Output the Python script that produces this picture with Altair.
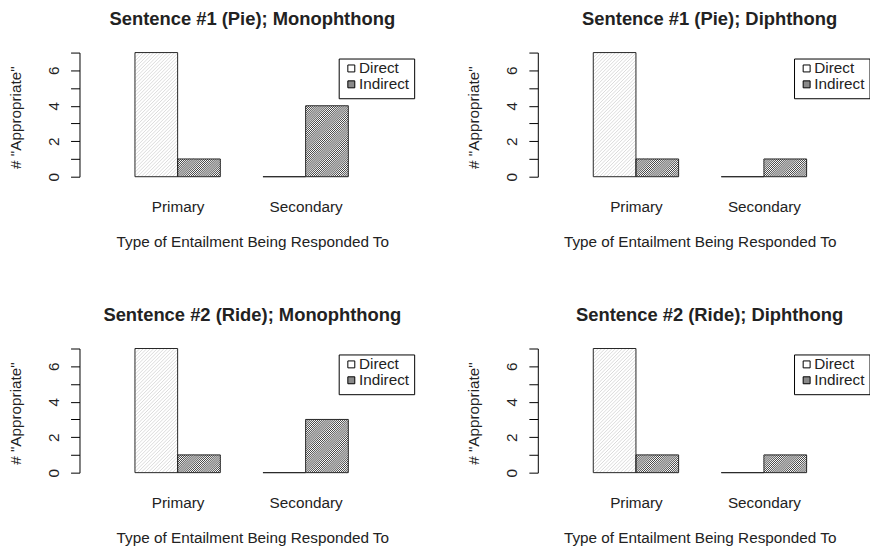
import json
import math

import altair as alt
import pandas as pd

# ---- data ----
panel_titles = [
    "Sentence #1 (Pie); Monophthong",
    "Sentence #1 (Pie); Diphthong",
    "Sentence #2 (Ride); Monophthong",
    "Sentence #2 (Ride); Diphthong",
]
categories = ["Primary", "Secondary"]
series = ["Direct", "Indirect"]
direct_counts = [[7, 0], [7, 0], [7, 0], [7, 0]]
indirect_counts = [[1, 4], [1, 1], [1, 3], [1, 1]]
y_ticks = [0, 1, 2, 3, 4, 5, 6, 7]

x_title = "Type of Entailment Being Responded To"
y_title = '# "Appropriate"'

# ---- style / layout constants ----
FONT = "Liberation Sans"
TXT = "#222222"
PLOT_H = 125
PANEL_W = [348, 326, 348, 326]
X_MIN = -0.3
UX = 348 / 8.1          # pixels per bar width (R barplot unit)
UY = PLOT_H / 7.0       # pixels per count
hatch_step = {"Direct": 3.5, "Indirect": 2.1}      # horizontal px between hatch lines
hatch_width = {"Direct": 0.8, "Indirect": 0.85}
hatch_colors = ["#d2d2d2", "#1a1a1a"]
legend_colors = ["#ffffff", "#8a8a8a"]
legend_x = [261, 258, 261, 258]
title_dx = [0, 10, 0, 10]


def bar_table(i):
    rows = []
    for ci, cat in enumerate(categories):
        for si, s in enumerate(series):
            v = (direct_counts if si == 0 else indirect_counts)[i][ci]
            x0 = 1 + 3 * ci + si          # barplot layout: width 1, space 1 between groups
            rows.append({"category": cat, "series": s, "value": v, "x0": x0, "x1": x0 + 1})
    return pd.DataFrame(rows)


def hatch_table(bars):
    rows = []
    for r in bars.itertuples():
        if r.value <= 0:
            continue
        d = hatch_step[r.series]
        X0, X1, Y1 = r.x0 * UX, r.x1 * UX, r.value * UY
        for k in range(math.ceil((X0 - Y1) / d), math.floor(X1 / d) + 1):
            c = k * d
            pa, pb = max(X0, c), min(X1, c + Y1)
            if pb - pa > 0.3:
                rows.append({
                    "series": r.series,
                    "hx": pa / UX, "hy": (pa - c) / UY,
                    "hx2": pb / UX, "hy2": (pb - c) / UY,
                })
    return pd.DataFrame(rows)


centers = [2 + 3 * ci for ci in range(len(categories))]
label_expr = f"{json.dumps(categories)}[round((datum.value - 2) / 3)]"


def panel(i):
    bars = bar_table(i)
    hatch = hatch_table(bars)
    xmax = X_MIN + PANEL_W[i] / UX
    xscale = alt.Scale(domain=[X_MIN, xmax], nice=False, zero=False)
    yscale = alt.Scale(domain=[0, 7], nice=False, zero=True)
    xaxis = alt.Axis(
        title=x_title,
        values=centers,
        labelExpr=label_expr,
        labelAngle=0,
        labelFlush=False,
        labelOverlap=False,
        grid=False,
        domain=False,
        ticks=False,
        tickSize=0,
        labelPadding=35.5,
        labelBaseline="alphabetic",
        labelFont=FONT,
        labelFontSize=15.4,
        labelColor=TXT,
        titleFont=FONT,
        titleFontSize=15.4,
        titleFontWeight="normal",
        titleColor=TXT,
        titleBaseline="alphabetic",
        titleY=70.5,
    )
    yaxis = alt.Axis(
        values=y_ticks,
        labelExpr="datum.value % 2 === 0 ? datum.label : ''",
        labelOverlap=False,
        grid=False,
        domainColor="black",
        tickColor="black",
        tickSize=9,
        labelAngle=270,
        labelAlign="center",
        labelBaseline="alphabetic",
        labelPadding=12,
        labelFont=FONT,
        labelFontSize=15.4,
        labelColor=TXT,
        title=y_title,
        titleFont=FONT,
        titleFontSize=15.4,
        titleFontWeight="normal",
        titleColor=TXT,
        titleAngle=270,
        titleAlign="center",
        titleBaseline="alphabetic",
        titleX=-59.5,
        titleY=65,
    )

    legend_layer = (
        alt.Chart(bars)
        .mark_bar(opacity=0)
        .encode(
            x=alt.X("x0:Q", scale=xscale, axis=xaxis),
            x2="x1:Q",
            y=alt.Y("value:Q", scale=yscale, axis=yaxis),
            y2=alt.Y2(datum=0),
            color=alt.Color(
                "series:N",
                sort=series,
                scale=alt.Scale(domain=series, range=legend_colors),
                legend=alt.Legend(
                    title=None,
                    orient="none",
                    legendX=legend_x[i],
                    legendY=6,
                    fillColor="white",
                    strokeColor="black",
                    padding=5,
                    cornerRadius=0,
                    symbolType="square",
                    symbolSize=49,
                    symbolStrokeColor="black",
                    symbolStrokeWidth=1,
                    symbolOpacity=1,
                    labelFont=FONT,
                    labelFontSize=15.4,
                    labelColor=TXT,
                    labelOffset=0,
                    clipHeight=10,
                    rowPadding=0,
                ),
            ),
        )
    )

    hatch_layer = (
        alt.Chart(hatch)
        .mark_rule()
        .encode(
            x=alt.X("hx:Q", scale=xscale, axis=xaxis),
            x2="hx2:Q",
            y=alt.Y("hy:Q", scale=yscale, axis=yaxis),
            y2="hy2:Q",
            stroke=alt.Stroke(
                "series:N",
                sort=series,
                scale=alt.Scale(domain=series, range=hatch_colors),
                legend=None,
            ),
            strokeWidth=alt.StrokeWidth(
                "series:N",
                sort=series,
                scale=alt.Scale(domain=series, range=[hatch_width[s] for s in series]),
                legend=None,
            ),
        )
    )

    outline_layer = (
        alt.Chart(bars)
        .mark_bar(fillOpacity=0, stroke="#262626", strokeWidth=1)
        .encode(
            x=alt.X("x0:Q", scale=xscale, axis=xaxis),
            x2="x1:Q",
            y=alt.Y("value:Q", scale=yscale, axis=yaxis),
            y2=alt.Y2(datum=0),
        )
    )

    return alt.layer(legend_layer, hatch_layer, outline_layer).properties(
        width=PANEL_W[i],
        height=PLOT_H,
        title=alt.TitleParams(
            text=panel_titles[i],
            font=FONT,
            fontSize=18.5,
            fontWeight="bold",
            color=TXT,
            anchor="middle",
            frame="group",
            baseline="alphabetic",
            offset=8.5,
            dx=title_dx[i],
        ),
    )


chart = (
    alt.concat(
        *[panel(i) for i in range(4)],
        columns=2,
        spacing={"row": 173, "column": 113.5},
        bounds="flush",
    )
    .resolve_scale(color="independent")
    .configure_view(stroke=None)
    .properties(padding={"left": 0, "top": 0, "right": 0, "bottom": 0})
)

chart.save("out.html", embed_options={"renderer": "svg", "actions": False})
